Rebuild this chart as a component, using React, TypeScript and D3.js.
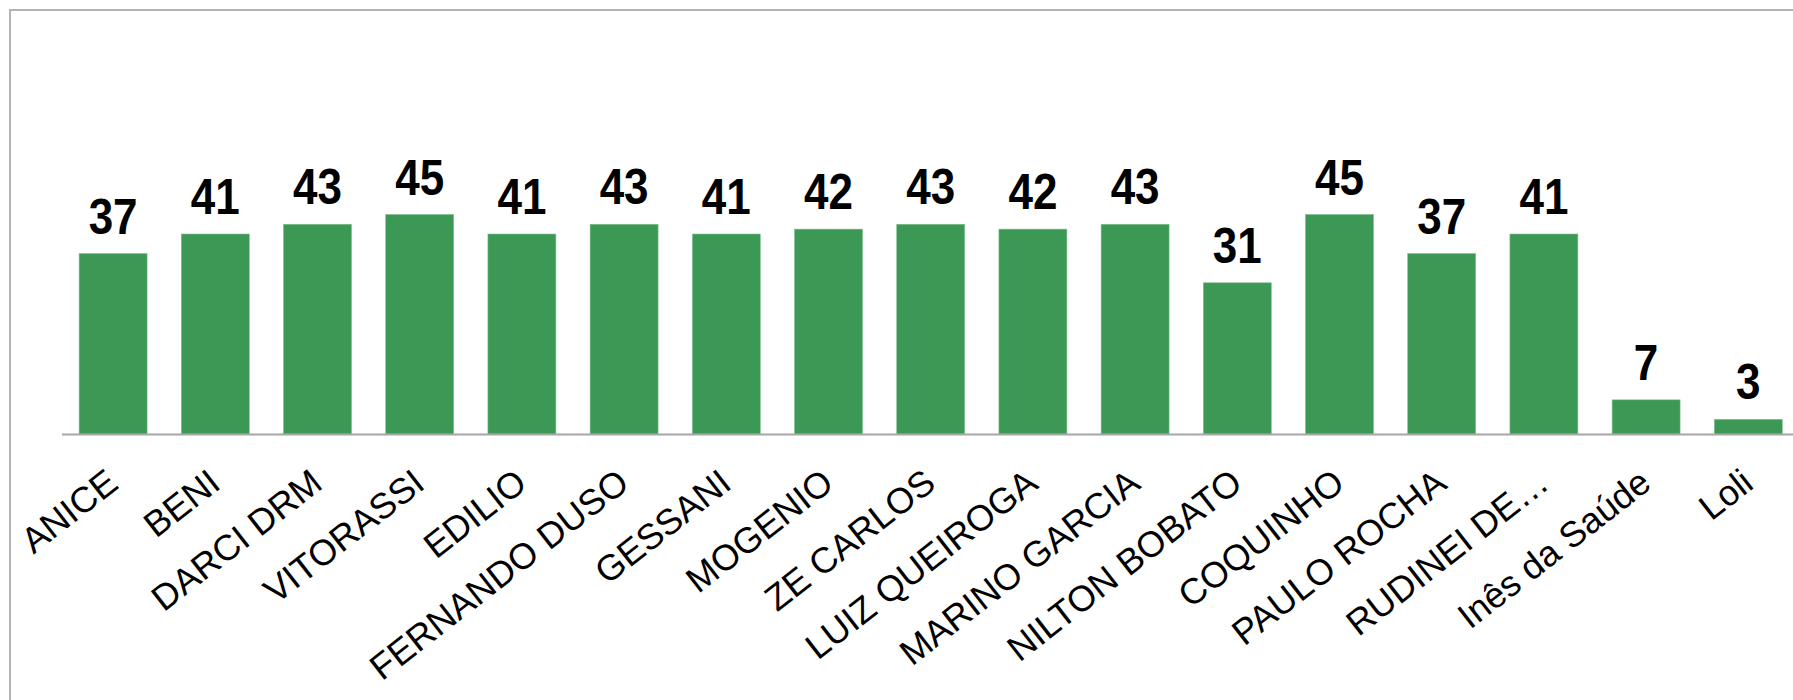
import React from "react";
import * as d3 from "d3";

const categories = [
  "ANICE", "BENI", "DARCI DRM", "VITORASSI", "EDILIO", "FERNANDO DUSO", "GESSANI",
  "MOGENIO", "ZE CARLOS", "LUIZ QUEIROGA", "MARINO GARCIA", "NILTON BOBATO",
  "COQUINHO", "PAULO ROCHA", "RUDINEI DE…", "Inês da Saúde", "Loli",
];
const values = [37, 41, 43, 45, 41, 43, 41, 42, 43, 42, 43, 31, 45, 37, 41, 7, 3];

const W = 1793;
const H = 700;

export default function App() {
  const x = d3
    .scaleBand<string>()
    .domain(categories)
    .range([62, 62 + 17 * 102.2])
    .paddingInner(0.335)
    .paddingOuter(0.1675);
  const y = d3.scaleLinear().domain([0, 45]).range([434, 214.5]);
  const bw = x.bandwidth();
  const angle = -38;

  return (
    <svg
      width={W}
      height={H}
      style={{ position: "absolute", left: 0, top: 0, background: "#fff" }}
      fontFamily="'Liberation Sans', Arial, sans-serif"
    >
      <rect x={0} y={0} width={W} height={H} fill="#fff" />
      <rect x={10} y={10} width={1800} height={720} fill="none" stroke="#b3b3b3" strokeWidth={2} />
      {categories.map((c, i) => {
        const x0 = x(c)!;
        const top = y(values[i]);
        return (
          <g key={c}>
            <rect x={x0} y={top} width={bw} height={y(0) - top} fill="#3c9855" stroke="#7fbf8f" strokeWidth={0.6} />
            <text
              transform={`translate(${x0 + bw / 2},${top - 20}) scale(0.88,1)`}
              textAnchor="middle"
              fontWeight="bold"
              fontSize={50}
              fill="#000"
            >
              {values[i]}
            </text>
            <text
              transform={`translate(${x0 + bw / 2 + 7},${487}) rotate(${angle})`}
              textAnchor="end"
              fontSize={36}
              fill="#000"
            >
              {c}
            </text>
          </g>
        );
      })}
      <line x1={62} x2={W} y1={434.5} y2={434.5} stroke="#a6a6a6" strokeWidth={2} />
    </svg>
  );
}
